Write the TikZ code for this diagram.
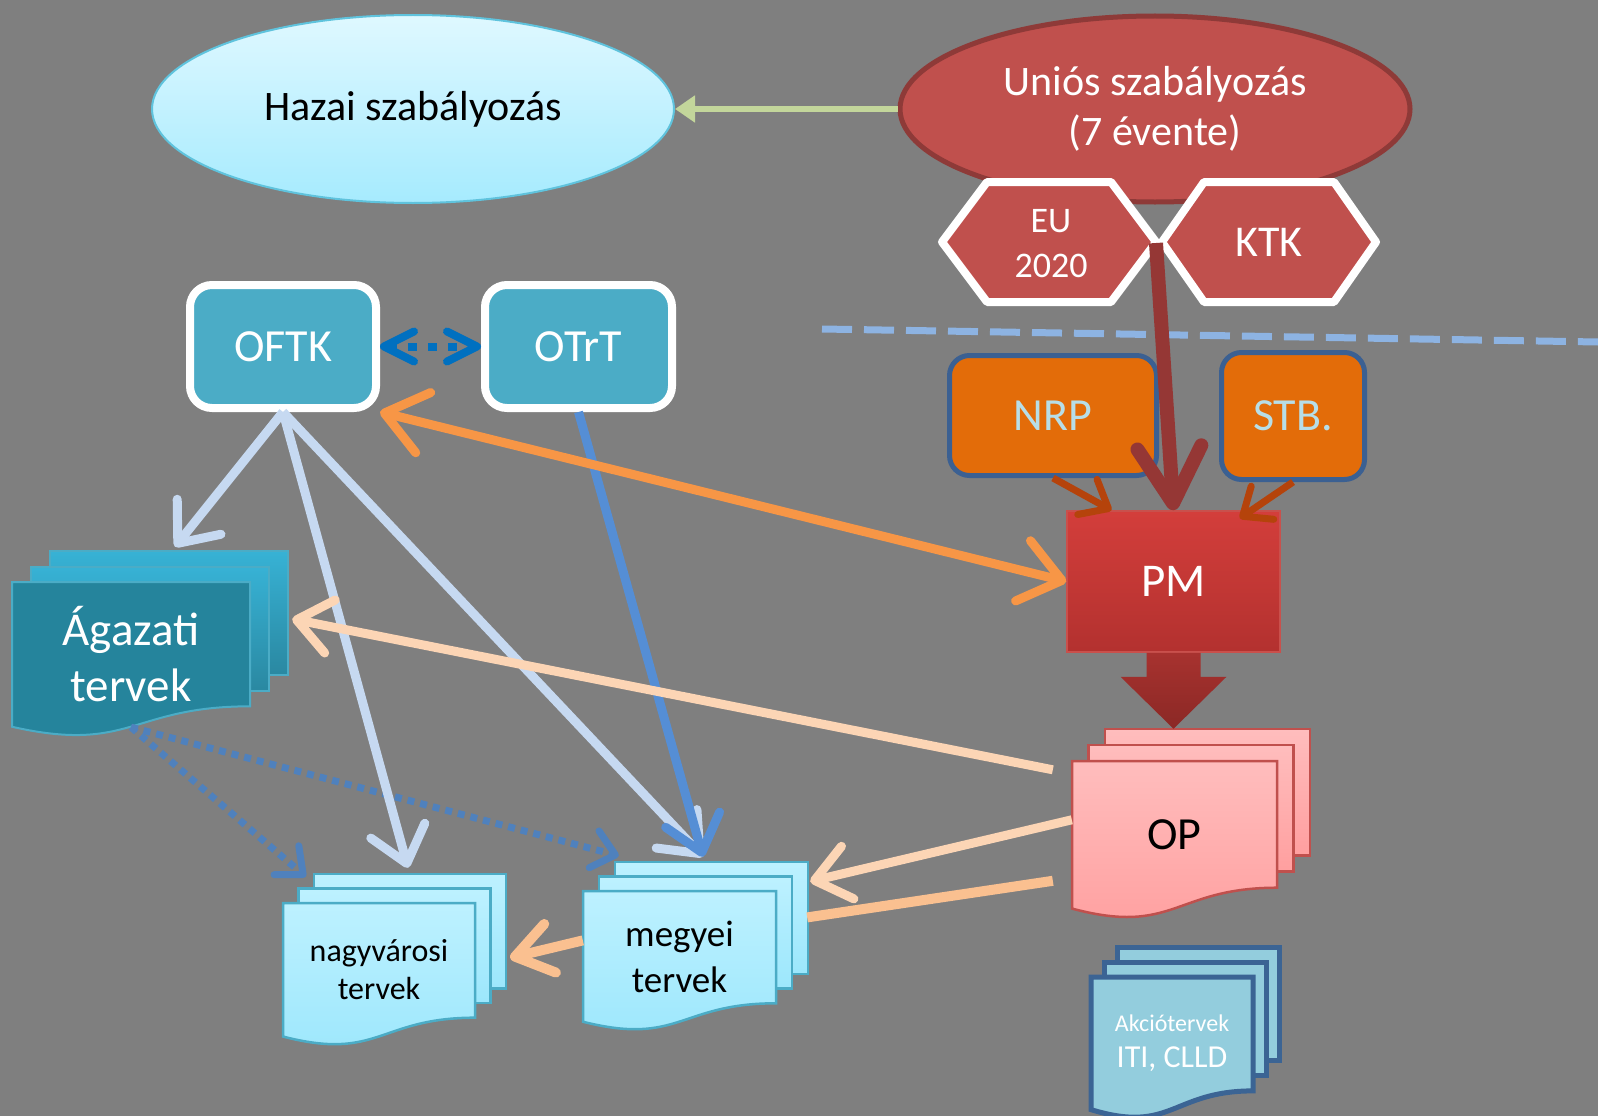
\documentclass[tikz,border=0pt]{standalone}
\usepackage{fontspec}
\setmainfont{Carlito}
\usetikzlibrary{arrows.meta,shapes.geometric}

\newlength{\du}
\setlength{\du}{1pt}

\definecolor{hatter}{HTML}{7F7F7F}
\definecolor{hazaifent}{HTML}{DFF8FF}
\definecolor{hazailent}{HTML}{A6EBFE}
\definecolor{hazaiszel}{HTML}{5FC3DD}
\definecolor{uniospiros}{HTML}{C0504D}
\definecolor{uniosszel}{HTML}{8E3A38}
\definecolor{zoldnyil}{HTML}{C3D69B}
\definecolor{hatarkek}{HTML}{8DB3E2}
\definecolor{dobozkek}{HTML}{4BACC6}
\definecolor{narancs}{HTML}{E36C09}
\definecolor{narancsszel}{HTML}{3B6092}
\definecolor{narancsbetu}{HTML}{B7DEE8}
\definecolor{pmfent}{HTML}{D33E3B}
\definecolor{pmlent}{HTML}{B3312F}
\definecolor{pmszel}{HTML}{C9504C}
\definecolor{pmnyilfent}{HTML}{A7322F}
\definecolor{pmnyillent}{HTML}{8B2825}
\definecolor{bordo}{HTML}{953735}
\definecolor{rozsda}{HTML}{B5430B}
\definecolor{narancsnyil}{HTML}{F79646}
\definecolor{halvanykek}{HTML}{C6D9F1}
\definecolor{kozepkek}{HTML}{558ED5}
\definecolor{barack}{HTML}{FCD5B5}
\definecolor{barackketto}{HTML}{FAC090}
\definecolor{pontkek}{HTML}{4F81BD}
\definecolor{sotetkek}{HTML}{0070C0}
\definecolor{agfent}{HTML}{37B2D5}
\definecolor{aglent}{HTML}{2A88A1}
\definecolor{agelso}{HTML}{25849C}
\definecolor{tervfent}{HTML}{BDF1FF}
\definecolor{tervlent}{HTML}{9CE7FC}
\definecolor{opfent}{HTML}{FFBDBD}
\definecolor{oplent}{HTML}{FF9F9F}
\definecolor{akciokek}{HTML}{93CDDD}
\definecolor{akcioszel}{HTML}{3B6494}

\newcommand{\nagybetu}{\fontsize{42}{50}\selectfont}
\newcommand{\dobozbetu}{\fontsize{46}{54}\selectfont}
\newcommand{\eubetu}{\fontsize{36}{45}\selectfont}
\newcommand{\lapbetu}{\fontsize{47}{56}\selectfont}
\newcommand{\varosbetu}{\fontsize{32}{38}\selectfont}
\newcommand{\megyebetu}{\fontsize{37}{46}\selectfont}
\newcommand{\akciobetu}{\fontsize{24}{30}\selectfont}
\newcommand{\itibetu}{\fontsize{32}{36}\selectfont}

% hatszog: kozep x, kozep y, fel szelesseg, fel magassag, csucs
\newcommand{\hexlap}[5]{%
  \draw[hexvonal] ({#1-#3},#2) -- ({#1-#3+#5},{#2-#4}) -- ({#1+#3-#5},{#2-#4})
    -- ({#1+#3},#2) -- ({#1+#3-#5},{#2+#4}) -- ({#1-#3+#5},{#2+#4}) -- cycle;}

% lapkoteg: x, y, szelesseg, magassag, dx, dy, hatso, kozepso, elso
\newcommand{\stackdoc}[9]{%
  \begin{scope}[shift={(#1,#2)}]
    \path[#7] ({2*#5},{-2*#6}) rectangle ++(#3,{0.8*#4});
    \path[#8] (#5,{-#6}) rectangle ++(#3,{0.8*#4});
    \path[#9] (0,0) -- (#3,0) -- (#3,{0.802*#4})
      .. controls ({0.5*#3},{0.802*#4}) and ({0.5*#3},{1.1075*#4}) .. (0,{0.934*#4}) -- cycle;
  \end{scope}}

\tikzset{
  hexvonal/.style={draw=white, fill=uniospiros, line width=8\du, line join=round},
  tervbox/.style={rectangle, rounded corners=22\du, draw=white, line width=8\du,
    fill=dobozkek, minimum width=186\du, minimum height=123\du, text=white, font=\dobozbetu},
  narancsbox/.style={rectangle, rounded corners=20\du, draw=narancsszel, line width=5\du,
    fill=narancs, text=narancsbetu, font=\dobozbetu},
  pmbox/.style={rectangle, draw=pmszel, line width=1.5\du, top color=pmfent, bottom color=pmlent,
    minimum width=213\du, minimum height=141\du, text=white, font=\lapbetu},
  lapcim/.style={rectangle, inner sep=0pt, align=center},
  aghatso/.style={draw=dobozkek, line width=2\du, top color=agfent, bottom color=aglent},
  agelolap/.style={draw=dobozkek, line width=2\du, fill=agelso},
  tervlap/.style={draw=dobozkek, line width=2.5\du, top color=tervfent, bottom color=tervlent},
  oplap/.style={draw=uniospiros, line width=2.5\du, top color=opfent, bottom color=oplent},
  akciolap/.style={draw=akcioszel, line width=5\du, fill=akciokek},
  vilagosnyil/.style={line width=9\du, halvanykek, -{Straight Barb[round, length=34pt, width=56pt]}},
  kekenyil/.style={line width=9\du, kozepkek, -{Straight Barb[round, length=34pt, width=56pt]}},
  barackny/.style={line width=9\du, barack, -{Straight Barb[round, length=34pt, width=54pt]}},
  barackkettony/.style={line width=10\du, barackketto, -{Straight Barb[round, length=36pt, width=50pt]}},
  pontozott/.style={line width=7\du, pontkek, dash pattern=on 7\du off 6\du,
    -{Straight Barb[round, length=22pt, width=38pt]}},
  rozsdany/.style={line width=7\du, rozsda, -{Straight Barb[round, length=24pt, width=40pt]}}
}

\begin{document}
\begin{tikzpicture}[x=\du, y=-\du]
\useasboundingbox (0,0) rectangle (1598,1116);
\fill[hatter] (0,0) rectangle (1598,1116);

% szabalyozas
\node[ellipse, draw=hazaiszel, line width=2\du, top color=hazaifent, bottom color=hazailent,
  minimum width=522\du, minimum height=188\du, font=\nagybetu] (hazai) at (413,109) {Hazai szabályozás};
\node[ellipse, draw=uniosszel, line width=5\du, fill=uniospiros, minimum width=510\du,
  minimum height=186\du, font=\nagybetu, text=white, align=center] (unios) at (1155,109) {Uniós szabályozás\\(7 évente)};

\hexlap{1049}{242}{107}{60}{45}
\hexlap{1269}{242}{107}{60}{42}
\node[font=\eubetu, text=white, align=center] (eu) at (1051,244) {EU\\2020};
\node[font=\fontsize{44}{50}\selectfont, text=white] (ktk) at (1269,242) {KTK};
\coordinate (hexjoin) at (1156,243);

\draw[line width=7\du, hatarkek, dash pattern=on 30\du off 12\du] (822,329) -- (1598,342);

% dobozok
\node[tervbox] (oftk) at (283,346.5) {OFTK};
\node[tervbox, minimum width=187\du] (otrt) at (578.5,346.5) {OTrT};
\node[narancsbox, minimum width=207\du, minimum height=120\du] (nrp) at (1053,415.5) {NRP};
\node[narancsbox, minimum width=143\du, minimum height=127\du] (stb) at (1293,416) {STB.};
\node[pmbox] (pm) at (1173.5,581.5) {PM};

% tervek
\stackdoc{12}{582}{238}{155}{19}{15.5}{aghatso}{aghatso}{agelolap}
\stackdoc{283}{903}{192}{143}{15.5}{14.5}{tervlap}{tervlap}{tervlap}
\stackdoc{583}{891}{193}{140}{16}{14.5}{tervlap}{tervlap}{tervlap}
\stackdoc{1072}{761}{205}{158}{16.5}{16}{oplap}{oplap}{oplap}
\stackdoc{1091}{977}{162}{142}{13}{15}{akciolap}{akciolap}{akciolap}

\node[lapcim, minimum width=238\du, minimum height=145\du, font=\lapbetu, text=white] (agazati) at (131,654.5) {Ágazati\\tervek};
\node[lapcim, minimum width=192\du, minimum height=133.6\du, font=\varosbetu] (nagyv) at (379,969.8) {nagyvárosi\\tervek};
\node[lapcim, minimum width=193\du, minimum height=130.8\du, font=\megyebetu] (megyei) at (679.5,956.4) {megyei\\tervek};
\node[lapcim, minimum width=205\du, minimum height=147.6\du, font=\dobozbetu] (op) at (1174.5,834.8) {OP};
\node[lapcim, minimum width=162\du, minimum height=132.6\du, text=white, font=\itibetu] (akcio) at (1172,1043.3) {{\akciobetu Akciótervek}\\ITI, CLLD};

% PM -> OP
\path[top color=pmnyilfent, bottom color=pmnyillent] ([xshift=-27\du]pm.south) -- ++(0,24) -- ++(-26,0)
  -- ++(53,52) -- ++(53,-52) -- ++(-26,0) -- ++(0,-24) -- cycle;

% nyilak
\draw[line width=6\du, zoldnyil, -{Triangle[length=20pt, width=26pt]}] (unios.west) -- (hazai.east);
\draw[line width=8\du, sotetkek, dash pattern=on 9\du off 11\du,
  {Straight Barb[round, length=30pt, width=30pt]}-{Straight Barb[round, length=30pt, width=30pt]}] (oftk.east) -- (otrt.west);
\draw[pontozott] (agazati.south) -- ([shift={(23,-26)}]nagyv.north west);
\draw[pontozott] (agazati.south) -- ([shift={(36,-35)}]megyei.north west);
\draw[vilagosnyil] (oftk.south) -- ([shift={(44,-35)}]agazati.north);
\draw[vilagosnyil] (oftk.south) -- ([shift={(29,-35)}]nagyv.north);
\draw[vilagosnyil] (oftk.south) -- ([shift={(23.5,-34)}]megyei.north);
\draw[kekenyil] (otrt.south) -- ([shift={(23.5,-34)}]megyei.north);
\draw[barackny] ([shift={(-19,9)}]op.north west) -- ([shift={(42,-35.5)}]agazati.east);
\draw[barackny] ([yshift=15\du]op.west) -- ([shift={(34,-75)}]megyei.east);
\draw[line width=10\du, barackketto] ([shift={(-19,46)}]op.west) -- ([shift={(31,-39)}]megyei.east);
\draw[barackkettony] ([yshift=16\du]megyei.west) -- ([shift={(35,-12)}]nagyv.east);
\draw[line width=9\du, narancsnyil, {Straight Barb[round, length=40pt, width=62pt]}-{Straight Barb[round, length=40pt, width=62pt]}] (oftk.south east) -- (pm.west);
\draw[rozsdany] (nrp.south) -- ([xshift=-62\du]pm.north);
\draw[rozsdany] (stb.south) -- ([shift={(-41,8)}]pm.north east);
\draw[line width=14\du, bordo, -{Straight Barb[round, length=56pt, width=64pt]}] (hexjoin) -- (pm.north);
\end{tikzpicture}
\end{document}
